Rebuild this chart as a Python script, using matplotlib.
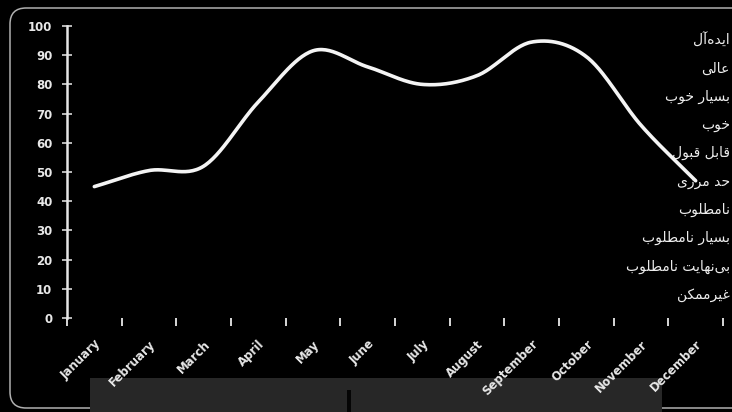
import numpy as np
import matplotlib
matplotlib.use("Agg")
import matplotlib.pyplot as plt
from matplotlib.patches import FancyBboxPatch, Rectangle

# ---------------- data ----------------
months = ["January", "February", "March", "April", "May", "June", "July",
          "August", "September", "October", "November", "December"]
values = [45, 50.5, 52, 74, 91.5, 86, 80, 83, 94.5, 89.5, 66, 47]
y_ticks = [0, 10, 20, 30, 40, 50, 60, 70, 80, 90, 100]
rating_labels = ["ایده‌آل", "عالی", "بسیار خوب", "خوب", "قابل قبول", "حد مرزی",
                 "نامطلوب", "بسیار نامطلوب", "بی‌نهایت نامطلوب", "غیرممکن"]

# ------------- Persian shaping for display (matplotlib has no RTL shaping) -------------
FORMS = {  # iso, fin, ini, med
    "ا": ("\uFE8D", "\uFE8E", None, None),
    "آ": ("\uFE81", "\uFE82", None, None),
    "ب": ("\uFE8F", "\uFE90", "\uFE91", "\uFE92"),
    "ت": ("\uFE95", "\uFE96", "\uFE97", "\uFE98"),
    "ح": ("\uFEA1", "\uFEA2", "\uFEA3", "\uFEA4"),
    "خ": ("\uFEA5", "\uFEA6", "\uFEA7", "\uFEA8"),
    "د": ("\uFEA9", "\uFEAA", None, None),
    "ر": ("\uFEAD", "\uFEAE", None, None),
    "ز": ("\uFEAF", "\uFEB0", None, None),
    "س": ("\uFEB1", "\uFEB2", "\uFEB3", "\uFEB4"),
    "ط": ("\uFEC1", "\uFEC2", "\uFEC3", "\uFEC4"),
    "ع": ("\uFEC9", "\uFECA", "\uFECB", "\uFECC"),
    "غ": ("\uFECD", "\uFECE", "\uFECF", "\uFED0"),
    "ق": ("\uFED5", "\uFED6", "\uFED7", "\uFED8"),
    "ل": ("\uFEDD", "\uFEDE", "\uFEDF", "\uFEE0"),
    "م": ("\uFEE1", "\uFEE2", "\uFEE3", "\uFEE4"),
    "ن": ("\uFEE5", "\uFEE6", "\uFEE7", "\uFEE8"),
    "ه": ("\uFEE9", "\uFEEA", "\uFEEB", "\uFEEC"),
    "و": ("\uFEED", "\uFEEE", None, None),
    "ی": ("\uFBFC", "\uFBFD", "\uFBFE", "\uFBFF"),
    "ک": ("\uFB8E", "\uFB8F", "\uFB90", "\uFB91"),
}


def shape_rtl(text):
    chars = list(text)
    out = []
    for i, c in enumerate(chars):
        if c not in FORMS:
            if c != "\u200c":
                out.append(c)
            continue
        prev = chars[i - 1] if i > 0 else None
        nxt = chars[i + 1] if i + 1 < len(chars) else None
        join_prev = prev in FORMS and FORMS[prev][2] is not None
        join_next = FORMS[c][2] is not None and nxt in FORMS
        iso, fin, ini, med = FORMS[c]
        if join_prev and join_next:
            out.append(med)
        elif join_prev:
            out.append(fin)
        elif join_next:
            out.append(ini)
        else:
            out.append(iso)
    return "".join(reversed(out))


def catmull_rom(x, y, n=30):
    x = np.asarray(x, float)
    y = np.asarray(y, float)
    m = np.zeros_like(y)
    m[1:-1] = (y[2:] - y[:-2]) / 2.0
    m[0] = y[1] - y[0]
    m[-1] = y[-1] - y[-2]
    xs, ys = [], []
    for i in range(len(x) - 1):
        t = np.linspace(0, 1, n, endpoint=(i == len(x) - 2))
        h00 = 2 * t**3 - 3 * t**2 + 1
        h10 = t**3 - 2 * t**2 + t
        h01 = -2 * t**3 + 3 * t**2
        h11 = t**3 - t**2
        xs.append(x[i] + t * (x[i + 1] - x[i]))
        ys.append(h00 * y[i] + h10 * m[i] + h01 * y[i + 1] + h11 * m[i + 1])
    return np.concatenate(xs), np.concatenate(ys)


# ---------------- figure ----------------
W, H = 732, 412
fig = plt.figure(figsize=(W / 100, H / 100), dpi=100, facecolor="black")

# rounded frame
frame = FancyBboxPatch((10 / W, 4 / H), 740 / W, 400 / H,
                       boxstyle="round,pad=0,rounding_size=0.022",
                       transform=fig.transFigure, facecolor="none",
                       edgecolor="#b0b0b0", linewidth=1.1, zorder=-2,
                       mutation_aspect=W / H)
fig.patches.append(frame)
# grey band at the bottom
fig.patches.append(Rectangle((90 / W, 0), 572 / W, 34 / H, transform=fig.transFigure,
                             facecolor="#272727", edgecolor="none", zorder=-1.5))
fig.patches.append(Rectangle((347 / W, 0), 4 / W, 22 / H, transform=fig.transFigure,
                             facecolor="#050505", edgecolor="none", zorder=-1.4))

ax = fig.add_axes([67 / W, 1 - 318 / H, (723 - 67) / W, (318 - 26) / H])
ax.patch.set_alpha(0)

xi = np.arange(len(months))
sx, sy = catmull_rom(xi, values)
ax.plot(sx, sy, color="#f4f4f4", lw=2.6, solid_capstyle="round", zorder=3)

ax.set_xlim(-0.5, len(months) - 0.5)
ax.set_ylim(0, 100)

for s in ["top", "right", "bottom"]:
    ax.spines[s].set_visible(False)
ax.spines["left"].set_color("#e6e6e6")
ax.spines["left"].set_linewidth(1.8)

ax.set_yticks(y_ticks)
ax.set_yticklabels([str(v) for v in y_ticks], fontweight="bold")
ax.tick_params(axis="y", colors="#d8d8d8", labelcolor="#e8e8e8", labelsize=8.5,
               direction="inout", length=7, width=1.2, pad=7)

ax.set_xticks(np.arange(-0.5, len(months), 1.0))
ax.set_xticklabels([])
ax.tick_params(axis="x", which="major", colors="#d8d8d8", direction="out",
               length=6, width=1.4)
ax.set_xticks(xi, minor=True)
ax.set_xticklabels(months, minor=True, rotation=45, ha="right", va="top",
                   rotation_mode="anchor", fontsize=8.5, fontweight="bold",
                   color="#e8e8e8")
ax.tick_params(axis="x", which="minor", length=0, pad=14)

# rating labels on the right
for i, lab in enumerate(rating_labels):
    ypx = 40 + i * 28.3
    fig.text(730 / W, 1 - ypx / H, shape_rtl(lab), ha="right", va="center",
             fontsize=10, color="#ececec", family="DejaVu Sans")

fig.savefig("out.png", dpi=100, facecolor="black")
